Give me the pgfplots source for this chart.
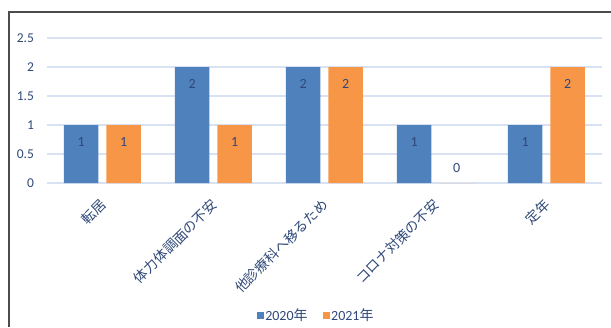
\documentclass[border=0pt]{standalone}
\usepackage{pgfplots}
\pgfplotsset{compat=1.18}
\usepackage{fontspec}
\setmainfont{Carlito}
\newfontfamily\cjk{Noto Sans CJK JP}
\definecolor{cblue}{RGB}{79,129,189}
\definecolor{corange}{RGB}{247,150,70}
\definecolor{ctext}{RGB}{47,72,120}
\definecolor{cgrid}{RGB}{217,226,242}
\begin{document}
\begin{tikzpicture}[x=1pt,y=1pt]
\path[use as bounding box] (0,0) rectangle (611,-327);
\draw[line width=1.2pt, black!70] (9,-327) -- (9,-12) -- (611,-12);
\begin{axis}[
  at={(47pt,-183pt)}, anchor=south west,
  scale only axis, width=555pt, height=145pt,
  xmin=-0.5, xmax=4.5, ymin=0, ymax=2.5,
  ybar, bar width=34.5pt,
  xtick={0,1,2,3,4},
  xticklabels={転居,体力体調面の不安,他診療科へ移るため,コロナ対策の不安,定年},
  ytick={0,0.5,1,1.5,2,2.5},
  ymajorgrids, grid style={cgrid, line width=1.2pt},
  axis line style={draw=none}, tick style={draw=none},
  /pgf/number format/assume math mode=true,
  yticklabel style={font=\fontsize{13.5}{16}\selectfont, text=ctext, xshift=-9.5pt},
  xticklabel style={font=\cjk\fontsize{13.8}{16}\selectfont, text=ctext, inner sep=0pt, xshift=1pt, yshift=-15pt, rotate=45, anchor=east},
  nodes near coords,
  visualization depends on={rawy \as \rawy},
  every node near coord/.append style={font=\fontsize{14}{16}\selectfont, text=ctext, anchor=center, yshift={ifthenelse(\rawy==0,15,-17)}},
  legend style={at={(0.485,-0.914)}, anchor=center, draw=none, fill=none, legend columns=2,
    font=\fontsize{14}{16}\selectfont, text=ctext,
    /tikz/every odd column/.append style={column sep=-1pt},
    /tikz/every even column/.append style={column sep=13pt}},
  legend image code/.code={\fill[#1] (0pt,-3.75pt) rectangle (7.5pt,3.75pt);},
]
\addplot[fill=cblue, draw=none, bar shift=-21.25pt] coordinates {(0,1) (1,2) (2,2) (3,1) (4,1)};
\addplot[fill=corange, draw=none, bar shift=21.25pt] coordinates {(0,1) (1,1) (2,2) (3,0) (4,2)};
\legend{2020{\cjk 年},2021{\cjk 年}}
\end{axis}
\end{tikzpicture}
\end{document}
